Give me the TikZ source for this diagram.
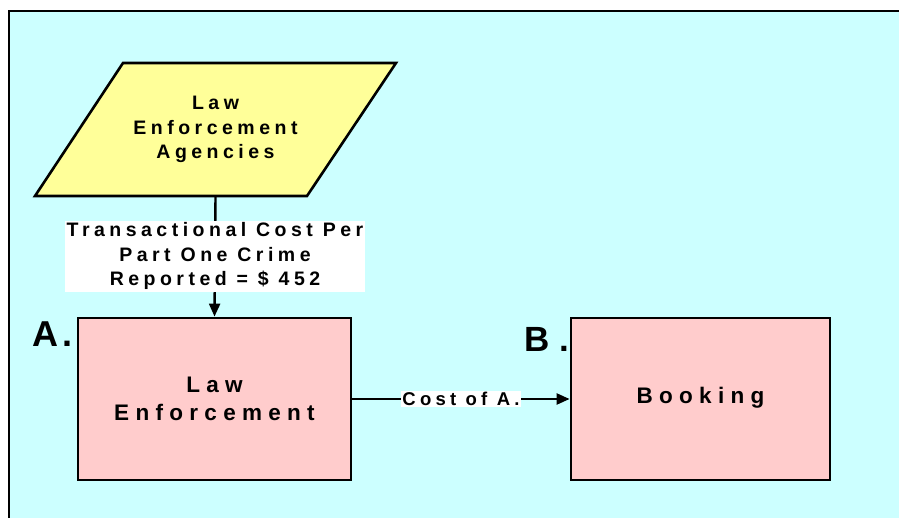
\documentclass[tikz,border=0pt]{standalone}
\usepackage{fontspec}
\setmainfont{Liberation Sans}
\newfontfamily\lsS[LetterSpace=23]{Liberation Sans}
\newfontfamily\lsB[LetterSpace=28]{Liberation Sans}
\newfontfamily\lsL[LetterSpace=12]{Liberation Sans}
\newfontfamily\lsW[LetterSpace=30]{Liberation Sans}
\usetikzlibrary{arrows.meta}
\definecolor{bgcyan}{HTML}{CCFFFF}
\definecolor{paryellow}{HTML}{FFFF99}
\definecolor{boxpink}{HTML}{FFCCCC}
\tikzset{
  conn/.style={line width=2.4pt,-{Triangle[length=13pt,width=11pt]}},
  procbox/.style={draw,line width=2.8pt,fill=boxpink,inner sep=0pt,align=center,
     font=\lsB\bfseries\fontsize{22.5}{28}\selectfont},
  lbl/.style={fill=white,inner sep=2pt,align=center,
     font=\lsS\bfseries\fontsize{19.5}{24.5}\selectfont},
  bigletter/.style={inner sep=0pt,anchor=base west,font=\lsL\bfseries\fontsize{36}{40}\selectfont},
  partext/.style={inner sep=0pt,align=center,minimum width=184pt,minimum height=133pt,
     font=\lsS\bfseries\fontsize{19.5}{24.5}\selectfont}
}
\begin{document}
\begin{tikzpicture}[x=1pt,y=-1pt]
\useasboundingbox (0,0) rectangle (899,518);
\fill[bgcyan] (9,11) rectangle (899,518);
\draw[line width=2.4pt] (9,518) -- (9,11) -- (899,11);
% parallelogram
\draw[line width=2.6pt,fill=paryellow,line join=miter] (123,63) -- (396,63) -- (307,196) -- (35,196) -- cycle;
\node[partext] (lea) at (215.5,129.5) {Law\\Enforcement\\Agencies};
% boxes
\node[procbox,minimum width=273pt,minimum height=162pt] (A) at (214.5,399) {Law\\Enforcement};
\node[procbox,minimum width=259pt,minimum height=162pt] (B) at (700.5,399) {\raisebox{8pt}{Booking}};
\node[bigletter] (Alab) at (32,347) {A.};
\node[bigletter,font=\lsW\bfseries\fontsize{35}{40}\selectfont] (Blab) at (524,352) {B.};
% connectors
\draw[conn] (lea.south) -- (A.north) node[lbl,midway] (c1) {Transactional Cost Per\\Part One Crime\\Reported = \$ 452};
\draw[conn] (A.east) -- (B.west) node[lbl,midway,font=\lsS\bfseries\fontsize{18.5}{22}\selectfont,inner sep=1.5pt] (c2) {Cost of A.};
\end{tikzpicture}
\end{document}
